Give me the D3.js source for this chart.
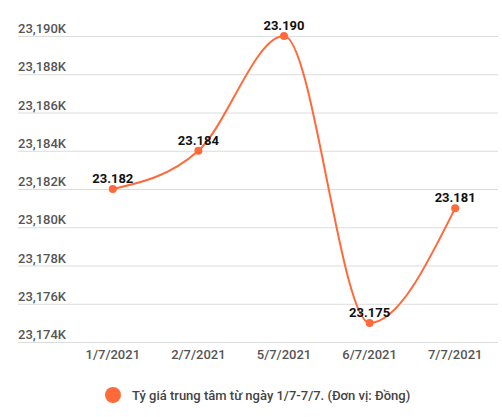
<!DOCTYPE html>
<html>
<head>
<meta charset="utf-8">
<script src="https://cdn.jsdelivr.net/npm/d3@7"></script>
<style>
  body { margin: 0; background: #fff; }
  svg { display: block; font-family: Roboto, "Noto Sans", sans-serif; }
</style>
</head>
<body>
<div id="container"><svg></svg></div>
<script>
'use strict';

var dates = ["1/7/2021", "2/7/2021", "5/7/2021", "6/7/2021", "7/7/2021"];
var rates = [23182, 23184, 23190, 23175, 23181];
var rateLabels = ["23.182", "23.184", "23.190", "23.175", "23.181"];
var yTicks = [23174, 23176, 23178, 23180, 23182, 23184, 23186, 23188, 23190];
var seriesName = "Tỷ giá trung tâm từ ngày 1/7-7/7. (Đơn vị: Đồng)";

var width = 502, height = 417;
var orange = "#ff6a3a";

var svg = d3.select("svg").attr("width", width).attr("height", height);

var x = d3.scalePoint().domain(dates).range([70, 498]).padding(0.5);
var y = d3.scaleLinear().domain([23174, 23190]).range([342, 36]);

// gridlines + y labels
var grid = svg.append("g").attr("class", "grid");
grid.selectAll("line").data(yTicks).enter().append("line")
  .attr("x1", 18).attr("x2", 498)
  .attr("y1", function (d) { return y(d) + 0.5; })
  .attr("y2", function (d) { return y(d) + 0.5; })
  .attr("stroke", "#dcdcdc").attr("stroke-width", 1);

grid.selectAll("text").data(yTicks).enter().append("text")
  .attr("x", 18)
  .attr("y", function (d) { return y(d) - 3; })
  .attr("font-size", 13).attr("font-weight", 500).attr("fill", "#555")
  .text(function (d) { return d3.format(",")(d) + "K"; });

// x labels
svg.append("g").selectAll("text").data(dates).enter().append("text")
  .attr("x", function (d) { return x(d); })
  .attr("y", 359)
  .attr("text-anchor", "middle")
  .attr("font-size", 13).attr("font-weight", 500).attr("fill", "#555")
  .text(function (d) { return d; });

// line
var line = d3.line()
  .x(function (d, i) { return x(dates[i]); })
  .y(function (d) { return y(d); })
  .curve(d3.curveMonotoneX);

svg.append("path").datum(rates)
  .attr("d", line)
  .attr("fill", "none")
  .attr("stroke", orange)
  .attr("stroke-width", 2);

svg.append("g").selectAll("circle").data(rates).enter().append("circle")
  .attr("cx", function (d, i) { return x(dates[i]); })
  .attr("cy", function (d) { return y(d); })
  .attr("r", 4)
  .attr("fill", orange);

// value labels
svg.append("g").selectAll("text").data(rates).enter().append("text")
  .attr("x", function (d, i) { return x(dates[i]); })
  .attr("y", function (d) { return y(d) - 6; })
  .attr("text-anchor", "middle")
  .attr("font-size", 13).attr("font-weight", 700).attr("fill", "#111")
  .text(function (d, i) { return rateLabels[i]; });

// legend
var legend = svg.append("g");
legend.append("circle").attr("cx", 113).attr("cy", 395).attr("r", 8).attr("fill", orange);
legend.append("text").attr("x", 132).attr("y", 400)
  .attr("font-size", 13).attr("font-weight", 500).attr("fill", "#444")
  .text(seriesName);
</script>
</body>
</html>
